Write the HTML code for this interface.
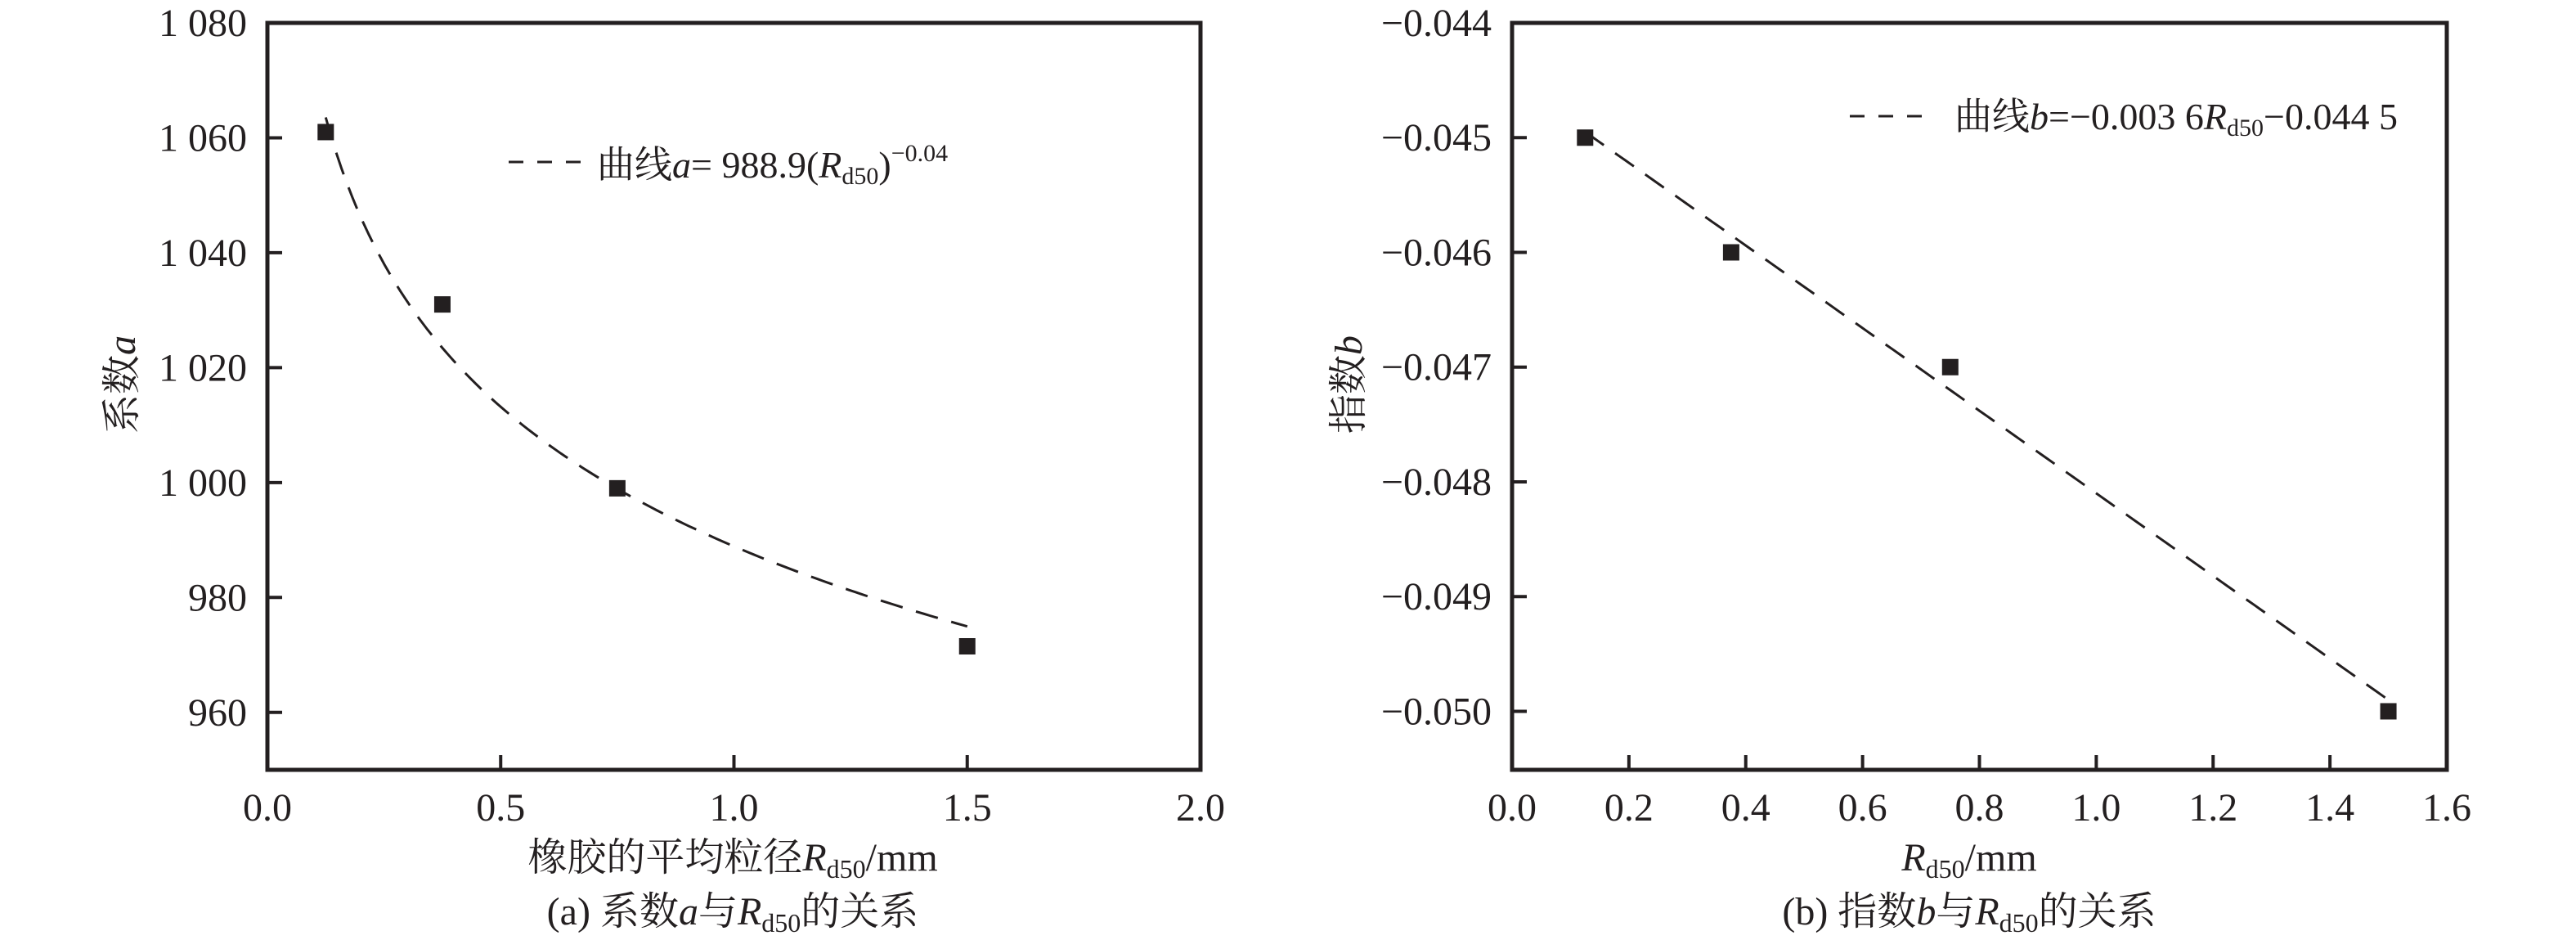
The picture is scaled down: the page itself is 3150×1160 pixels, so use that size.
<!DOCTYPE html>
<html><head><meta charset="utf-8">
<style>
html,body{margin:0;padding:0;background:#fff;}
svg{display:block;font-family:"Liberation Serif","Noto Serif CJK SC",serif;fill:#231f20;}
</style></head>
<body>
<svg id="chart" width="3150" height="1160" viewBox="0 0 3150 1160" xmlns="http://www.w3.org/2000/svg">
<g id="pa"></g>
<g id="pb"></g>
</svg>
<script>
const aX = [0.125, 0.375, 0.75, 1.5];
const aY = [1061, 1031, 999, 971.5];
const aTicksY = [960, 980, 1000, 1020, 1040, 1060, 1080];
const aTickLabelsY = ["960", "980", "1 000", "1 020", "1 040", "1 060", "1 080"];
const aTicksX = [0.0, 0.5, 1.0, 1.5, 2.0];
const aTickLabelsX = ["0.0", "0.5", "1.0", "1.5", "2.0"];
const aFitCoef = 988.9;
const aFitExp = -0.035;

const bX = [0.125, 0.375, 0.75, 1.5];
const bY = [-0.045, -0.046, -0.047, -0.050];
const bTicksY = [-0.050, -0.049, -0.048, -0.047, -0.046, -0.045, -0.044];
const bTickLabelsY = ["\u22120.050", "\u22120.049", "\u22120.048", "\u22120.047", "\u22120.046", "\u22120.045", "\u22120.044"];
const bTicksX = [0.0, 0.2, 0.4, 0.6, 0.8, 1.0, 1.2, 1.4, 1.6];
const bTickLabelsX = ["0.0", "0.2", "0.4", "0.6", "0.8", "1.0", "1.2", "1.4", "1.6"];
const bSlope = -0.0036;
const bIntercept = -0.0445;

const NS = "http://www.w3.org/2000/svg";
function mk(parent, tag, attrs, text) {
  const el = document.createElementNS(NS, tag);
  for (const k in attrs) el.setAttribute(k, attrs[k]);
  if (text !== undefined) el.textContent = text;
  parent.appendChild(el);
  return el;
}

function panel(g, cfg) {
  const L = cfg.L, R = cfg.R, T = 28, B = 941;
  const sx = v => L + (v - cfg.x0) / (cfg.x1 - cfg.x0) * (R - L);
  const sy = v => B - (v - cfg.y0) / (cfg.y1 - cfg.y0) * (B - T);
  const frame = mk(g, "rect", {x: L, y: T, width: R - L, height: B - T, fill: "none", stroke: "#231f20", "stroke-width": 5});
  
  
  cfg.ticksY.forEach((v, i) => {
    const y = sy(v);
    const t = mk(g, "line", {x1: L, x2: L + 18, y1: y, y2: y, stroke: "#231f20", "stroke-width": 4});
    
    
    const lb = mk(g, "text", {x: L - 25, y: y + 16, "font-size": 48, "text-anchor": "end"}, cfg.tickLabelsY[i]);
    
    
  });
  cfg.ticksX.forEach((v, i) => {
    const x = sx(v);
    if (i > 0 && i < cfg.ticksX.length - 1) {
      const t = mk(g, "line", {x1: x, x2: x, y1: B, y2: B - 18, stroke: "#231f20", "stroke-width": 4});
      
      
    }
    const lb = mk(g, "text", {x: x, y: 1003, "font-size": 48, "text-anchor": "middle"}, cfg.tickLabelsX[i]);
    
    
  });
  const pts = [];
  const x0 = cfg.xs[0], x1 = cfg.xs[cfg.xs.length - 1];
  for (let k = 0; k <= 120; k++) {
    const xv = x0 + (x1 - x0) * k / 120;
    pts.push(sx(xv).toFixed(1) + "," + sy(cfg.fit(xv)).toFixed(1));
  }
  const fl = mk(g, "polyline", {points: pts.join(" "), fill: "none", stroke: "#231f20", "stroke-width": 3, "stroke-dasharray": "28 17"});
  
  
  cfg.xs.forEach((v, i) => {
    const m = mk(g, "rect", {x: sx(v) - 10, y: sy(cfg.ys[i]) - 10, width: 20, height: 20, fill: "#231f20"});
    
    
  });
}

panel(document.getElementById("pa"), {L: 327, R: 1468, x0: 0, x1: 2, y0: 950, y1: 1080,
  ticksY: aTicksY, tickLabelsY: aTickLabelsY, ticksX: aTicksX, tickLabelsX: aTickLabelsX,
  xs: aX, ys: aY, fit: x => aFitCoef * Math.pow(x, aFitExp)});
panel(document.getElementById("pb"), {L: 1849, R: 2992, x0: 0, x1: 1.6, y0: -0.05051, y1: -0.044,
  ticksY: bTicksY, tickLabelsY: bTickLabelsY, ticksX: bTicksX, tickLabelsX: bTickLabelsX,
  xs: bX, ys: bY, fit: x => bSlope * x + bIntercept});
</script>

<svg style="position:absolute;left:0;top:0" width="3150" height="1160" xmlns="http://www.w3.org/2000/svg">
<g font-family="Liberation Serif, Noto Serif CJK SC, serif" fill="#231f20">
  <g>
    <line x1="622" y1="198" x2="711" y2="198" stroke="#231f20" stroke-width="3" stroke-dasharray="18 17"/>
    <text x="730" y="217" font-size="46">曲线<tspan font-style="italic">a</tspan>= 988.9(<tspan font-style="italic">R</tspan><tspan font-size="30" dy="8">d50</tspan><tspan dy="-8">)</tspan><tspan font-size="30" dy="-20">−0.04</tspan></text>
  </g>
  <g>
    <line x1="2262" y1="142" x2="2362" y2="142" stroke="#231f20" stroke-width="3" stroke-dasharray="18 17"/>
    <text x="2390" y="158" font-size="46">曲线<tspan font-style="italic">b</tspan>=−0.003 6<tspan font-style="italic">R</tspan><tspan font-size="30" dy="8">d50</tspan><tspan dy="-8">−0.044 5</tspan></text>
  </g>
  <text transform="translate(165,470) rotate(-90)" font-size="48" text-anchor="middle">系数<tspan font-style="italic">a</tspan></text>
  <text transform="translate(1665,470) rotate(-90)" font-size="48" text-anchor="middle">指数<tspan font-style="italic">b</tspan></text>
  <text x="896" y="1064" font-size="48" text-anchor="middle">橡胶的平均粒径<tspan font-style="italic">R</tspan><tspan font-size="32" dy="9">d50</tspan><tspan dy="-9">/mm</tspan></text>
  <text x="2408" y="1064" font-size="48" text-anchor="middle"><tspan font-style="italic">R</tspan><tspan font-size="32" dy="9">d50</tspan><tspan dy="-9">/mm</tspan></text>
  <text x="896" y="1130" font-size="48" text-anchor="middle">(a) 系数<tspan font-style="italic">a</tspan>与<tspan font-style="italic">R</tspan><tspan font-size="32" dy="9">d50</tspan><tspan dy="-9">的关系</tspan></text>
  <text x="2408" y="1130" font-size="48" text-anchor="middle">(b) 指数<tspan font-style="italic">b</tspan>与<tspan font-style="italic">R</tspan><tspan font-size="32" dy="9">d50</tspan><tspan dy="-9">的关系</tspan></text>
</g>
</svg>
</body></html>
